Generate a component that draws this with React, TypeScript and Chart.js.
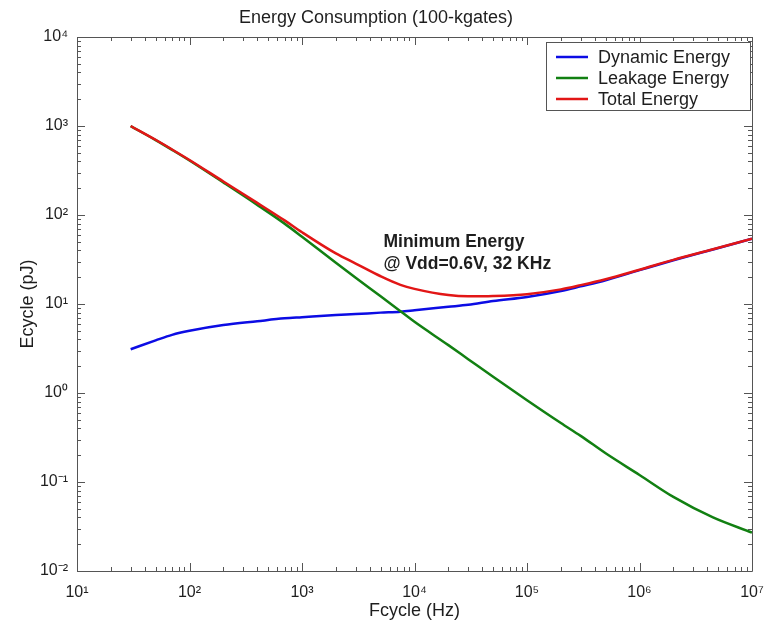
import React, { useEffect, useRef } from 'react';
import { Chart, registerables } from 'chart.js';

Chart.register(...registerables);

// ---- Data ----
const freqHz = [30, 50, 70, 100, 200, 400, 700, 1000, 2000, 3000, 5000, 7500, 10000, 20000, 30000, 50000, 100000, 200000, 300000, 500000, 1000000, 2000000, 4500000, 10000000];
const dynamicEnergy = [3.1, 3.9, 4.5, 5.0, 5.8, 6.4, 6.9, 7.1, 7.5, 7.7, 8.0, 8.2, 8.5, 9.3, 9.8, 10.8, 12.0, 14.0, 15.8, 18.5, 24, 31, 41, 54];
const leakageEnergy = [997, 695, 540, 410, 232, 130, 80, 57, 29, 19.7, 12.2, 8.3, 6.3, 3.45, 2.4, 1.52, 0.83, 0.46, 0.33, 0.21, 0.12, 0.068, 0.04, 0.027];
const totalEnergy = [1000, 700, 545, 415, 238, 137, 87, 64, 37, 28.5, 20.5, 16.4, 14.8, 12.6, 12.2, 12.3, 12.9, 14.6, 16.3, 19, 24.3, 31.3, 41.2, 54.2];

const seriesLabels = ['Dynamic Energy', 'Leakage Energy', 'Total Energy'];
const seriesColors = ['rgb(12,12,228)', 'rgb(18,128,18)', 'rgb(226,22,22)'];

const xDecades = [1e1, 1e2, 1e3, 1e4, 1e5, 1e6, 1e7];
const yDecades = [1e-2, 1e-1, 1e0, 1e1, 1e2, 1e3, 1e4];

const chartTitle = 'Energy Consumption (100-kgates)';
const xTitle = 'Fcycle (Hz)';
const yTitle = 'Ecycle (pJ)';
const annotationLines = ['Minimum Energy', '@ Vdd=0.6V, 32 KHz'];
const annotationAnchor = { x: 5300, y: 50 };

const FONT = '"Liberation Sans", Arial, Helvetica, sans-serif';
const TEXT = '#1e1e1e';
const AXIS = '#555555';

const SUP: Record<string, string> = { '-': '⁻', '0': '⁰', '1': '¹', '2': '²', '3': '³', '4': '⁴', '5': '⁵', '6': '⁶', '7': '⁷', '8': '⁸', '9': '⁹' };
const decadeLabel = (v: number) => {
  const e = Math.round(Math.log10(v));
  if (Math.abs(Math.log10(v) - e) > 1e-9) return '';
  return '10' + String(e).split('').map((c) => SUP[c]).join('');
};

const withMinors = (decades: number[]) => {
  const out: { value: number; major: boolean }[] = [];
  for (let i = 0; i < decades.length; i++) {
    out.push({ value: decades[i], major: true });
    if (i < decades.length - 1) {
      for (let m = 2; m <= 9; m++) out.push({ value: decades[i] * m, major: false });
    }
  }
  return out;
};

const framePlugin = {
  id: 'frameTicks',
  afterDatasetsDraw(chart: any) {
    const { ctx, chartArea: a, scales } = chart;
    ctx.save();
    ctx.strokeStyle = AXIS;
    ctx.lineWidth = 1;
    // annotation text
    const ax = scales.x.getPixelForValue(annotationAnchor.x);
    const ay = scales.y.getPixelForValue(annotationAnchor.y);
    ctx.fillStyle = TEXT;
    ctx.font = `bold 17.5px ${FONT}`;
    ctx.textAlign = 'left';
    ctx.textBaseline = 'middle';
    ctx.fillText(annotationLines[0], ax, ay);
    ctx.fillText(annotationLines[1], ax, ay + 22);

    // box
    ctx.beginPath();
    ctx.rect(Math.round(a.left) + 0.5, Math.round(a.top) + 0.5, Math.round(a.right - a.left), Math.round(a.bottom - a.top));
    ctx.stroke();
    // ticks
    ctx.beginPath();
    for (const t of scales.x.ticks) {
      const px = Math.round(scales.x.getPixelForValue(t.value)) + 0.5;
      const len = t.major ? 8 : 4;
      ctx.moveTo(px, a.bottom);
      ctx.lineTo(px, a.bottom - len);
      ctx.moveTo(px, a.top);
      ctx.lineTo(px, a.top + len);
    }
    for (const t of scales.y.ticks) {
      const py = Math.round(scales.y.getPixelForValue(t.value)) + 0.5;
      const len = t.major ? 8 : 4;
      ctx.moveTo(a.left, py);
      ctx.lineTo(a.left + len, py);
      ctx.moveTo(a.right, py);
      ctx.lineTo(a.right - len, py);
    }
    ctx.stroke();

    // legend
    const bw = 204, bh = 68;
    const bx = Math.round(a.right) - 206, by = Math.round(a.top) + 5;
    ctx.fillStyle = '#ffffff';
    ctx.fillRect(bx, by, bw, bh);
    ctx.strokeStyle = AXIS;
    ctx.strokeRect(bx + 0.5, by + 0.5, bw, bh);
    ctx.font = `18px ${FONT}`;
    ctx.textBaseline = 'middle';
    chart.data.datasets.forEach((ds: any, i: number) => {
      const yy = by + 15 + i * 21;
      ctx.strokeStyle = ds.borderColor;
      ctx.lineWidth = 2.5;
      ctx.beginPath();
      ctx.moveTo(bx + 10, yy);
      ctx.lineTo(bx + 42, yy);
      ctx.stroke();
      ctx.fillStyle = TEXT;
      ctx.fillText(ds.label, bx + 52, yy + 1);
    });
    ctx.restore();
  },
};

export default function App() {
  const ref = useRef<HTMLCanvasElement | null>(null);
  useEffect(() => {
    if (!ref.current) return;
    const mk = (vals: number[]) => freqHz.map((f, i) => ({ x: f, y: vals[i] }));
    const series = [dynamicEnergy, leakageEnergy, totalEnergy];
    const chart = new Chart(ref.current, {
      type: 'line',
      data: {
        datasets: series.map((vals, i) => ({
          label: seriesLabels[i],
          data: mk(vals),
          borderColor: seriesColors[i],
          backgroundColor: seriesColors[i],
          borderWidth: 2.5,
          pointRadius: 0,
          cubicInterpolationMode: 'monotone' as const,
          fill: false,
          order: 3 - i,
        })),
      },
      options: {
        responsive: false,
        animation: false,
        parsing: false as any,
        layout: { padding: { left: 0, right: 14, top: 0, bottom: 0 } },
        plugins: {
          legend: { display: false },
          tooltip: { enabled: false },
          title: {
            display: true,
            text: chartTitle,
            color: TEXT,
            font: { family: FONT, size: 18, weight: 'normal' as any },
            padding: { top: 7, bottom: 8.4 },
          },
        },
        scales: {
          x: {
            type: 'logarithmic',
            min: 10,
            max: 1e7,
            afterBuildTicks: (s: any) => { s.ticks = withMinors(xDecades); },
            afterFit: (s: any) => { s.height = 55; s.paddingRight = 0; s.paddingLeft = 0; },
            grid: { display: false, drawTicks: false },
            border: { display: false },
            ticks: {
              autoSkip: false,
              maxRotation: 0,
              minRotation: 0,
              padding: 12,
              color: TEXT,
              font: { family: FONT, size: 16 },
              callback: (v: any) => decadeLabel(Number(v)),
            },
            title: {
              display: true,
              text: xTitle,
              color: TEXT,
              font: { family: FONT, size: 18 },
              padding: { top: 0, bottom: 4 },
            },
          },
          y: {
            type: 'logarithmic',
            min: 1e-2,
            max: 1e4,
            afterBuildTicks: (s: any) => { s.ticks = withMinors(yDecades); },
            afterFit: (s: any) => { s.width = 77; s.paddingTop = 0; s.paddingBottom = 0; },
            grid: { display: false, drawTicks: false },
            border: { display: false },
            ticks: {
              autoSkip: false,
              padding: 9,
              color: TEXT,
              font: { family: FONT, size: 16 },
              callback: (v: any) => decadeLabel(Number(v)),
            },
            title: {
              display: true,
              text: yTitle,
              color: TEXT,
              font: { family: FONT, size: 18 },
              padding: { top: 17, bottom: 0 },
            },
          },
        },
      },
      plugins: [framePlugin],
    });
    return () => chart.destroy();
  }, []);
  return (
    <div style={{ position: 'fixed', left: 0, top: 0, width: 766, height: 626, background: '#fff' }}>
      <canvas ref={ref} width={766} height={626} style={{ display: 'block' }} />
    </div>
  );
}
